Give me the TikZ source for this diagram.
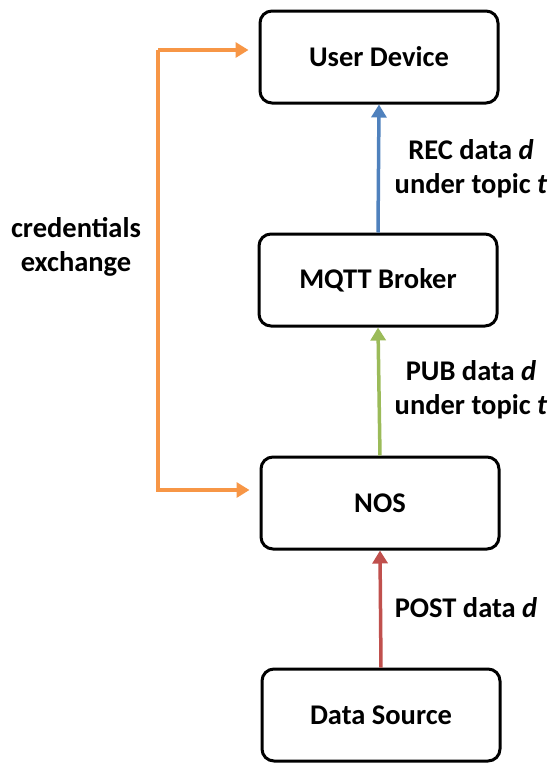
\documentclass[tikz,border=0pt]{standalone}
\usepackage{fontspec}
\setmainfont{Carlito}
\usepackage{tikz}
\usetikzlibrary{arrows.meta, positioning}
\definecolor{credorange}{HTML}{F79646}
\definecolor{recblue}{HTML}{4F81BD}
\definecolor{pubgreen}{HTML}{9BBB59}
\definecolor{postred}{HTML}{C0504D}
\tikzset{
    box/.style={rectangle, draw=black, line width=3pt, fill=white, rounded corners=12pt, minimum width=238pt, minimum height=92pt, align=center, font=\fontsize{28.5}{33}\selectfont\bfseries},
    lbl/.style={align=center, font=\fontsize{28.5}{34}\selectfont\bfseries},
    arrow/.style={-{Triangle[length=13pt, width=15pt]}, line width=3.5pt}
}
\begin{document}
\begin{tikzpicture}[x=1pt, y=-1pt]
        \useasboundingbox (0,0) rectangle (553,764);
        \node[box] (user) at (379,57) {User Device};
        \node[box] (broker) at (378,280) {MQTT Broker};
        \node[box] (nos) at (380,503) {NOS};
        \node[box] (source) at (381,715) {Data Source};
        \draw[arrow, postred] (source.north) -- (nos.south);
        \draw[arrow, pubgreen] (nos.north) -- (broker.south);
        \draw[arrow, recblue] (broker.north) -- (user.south);
        % credentials path on the left
        \coordinate (ctop) at (158,50);
        \coordinate (cbot) at (158,490);
        \draw[arrow, credorange] (ctop) -- ([xshift=-10pt]user.west |- ctop);
        \draw[arrow, credorange] (ctop) -- (cbot) -- ([xshift=-10pt]nos.west |- cbot);
        \node[lbl] (cred) at (76,247) {credentials\\exchange};
        \node[lbl] (rec) at (471,169) {REC data \textit{d}\\under topic \textit{t}};
        \node[lbl] (pub) at (471,390) {PUB data \textit{d}\\under topic \textit{t}};
        \node[lbl] (post) at (466,608) {POST data \textit{d}};
    \end{tikzpicture}
\end{document}
